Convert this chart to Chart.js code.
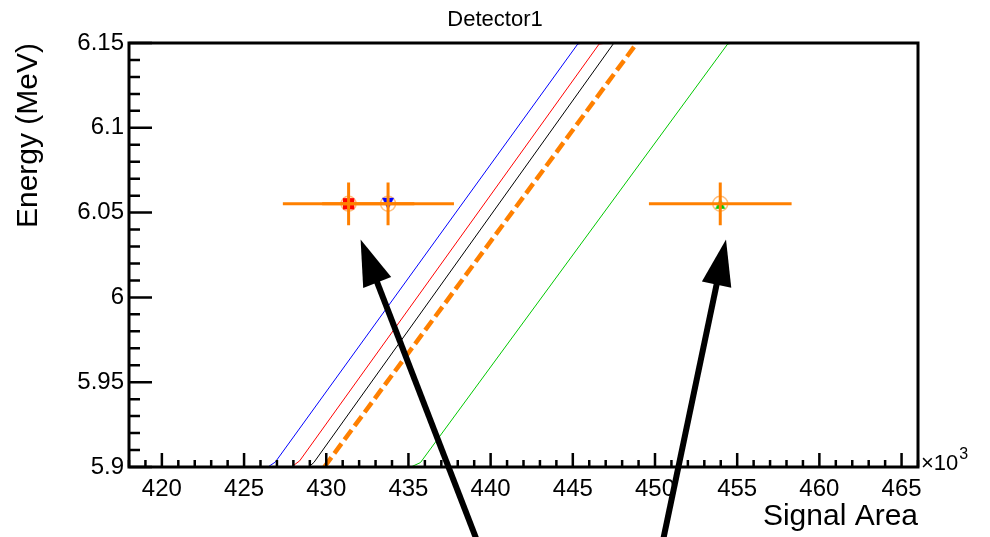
<!DOCTYPE html>
<html>
<head>
<meta charset="utf-8">
<script src="https://cdn.jsdelivr.net/npm/chart.js@4.4.1/dist/chart.umd.min.js"></script>
<style>
  html, body { margin: 0; padding: 0; background: #fff; }
  #contenedor { width: 990px; height: 537px; }
</style>
</head>
<body>
<div id="contenedor"><canvas id="graficoDetector"></canvas></div>
<script>
const FUENTE = '"Liberation Sans", Arial, Helvetica, sans-serif';

// calibration lines: signal area (x10^3) vs energy (MeV)
const azulX = [426.45, 426.9, 445.3, 445.6];
const azulY = [5.9, 5.9029, 6.1494, 6.15];
const rojoX = [427.88, 428.38, 446.6, 447.1];
const rojoY = [5.9, 5.9036, 6.1494, 6.15];
const negroX = [428.94, 429.25, 447.5];
const negroY = [5.9, 5.9027, 6.15];
const naranjaX = [429.88, 448.9];
const naranjaY = [5.9, 6.15];
const verdeX = [435.15, 435.73, 454.42, 454.72];
const verdeY = [5.9, 5.9026, 6.1494, 6.15];

// measured points with errors
const puntosX = [431.36, 433.76, 453.97];
const puntosY = [6.0552, 6.0552, 6.0552];
const errX = [4.0, 4.01, 4.34];
const errY = [0.0126, 0.0126, 0.0126];

// marker cut off above the frame
const extraX = [433.3];
const extraY = [6.1777];

// arrows (tail -> tip)
const flechaColaX = [439.66, 450.22];
const flechaColaY = [5.8443, 5.8443];
const flechaPuntaX = [432.09, 454.32];
const flechaPuntaY = [6.0341, 6.0341];

// axis ticks
const ticksX = [420, 425, 430, 435, 440, 445, 450, 455, 460, 465];
const ticksY = [5.9, 5.95, 6.0, 6.05, 6.1, 6.15];
const etiquetasY = ["5.9", "5.95", "6", "6.05", "6.1", "6.15"];

function puntos(xs, ys) {
  return xs.map((x, i) => ({ x: x, y: ys[i] }));
}

// triangle marker centred on its bounding box
function marcadorTriangulo(color, s, haciaAbajo) {
  const c = document.createElement("canvas");
  c.width = 2 * s + 2;
  c.height = 2 * s + 2;
  const g = c.getContext("2d");
  const m = s + 1;
  g.fillStyle = color;
  g.beginPath();
  if (haciaAbajo) {
    g.moveTo(m - s, m - s);
    g.lineTo(m + s, m - s);
    g.lineTo(m, m + s);
  } else {
    g.moveTo(m - s, m + s);
    g.lineTo(m + s, m + s);
    g.lineTo(m, m - s);
  }
  g.closePath();
  g.fill();
  return c;
}

function dibujarFlecha(ctx, x0, y0, x1, y1) {
  const ang = Math.atan2(y1 - y0, x1 - x0);
  const largo = 46, ancho = 15;
  const bx = x1 - largo * Math.cos(ang);
  const by = y1 - largo * Math.sin(ang);
  ctx.strokeStyle = "#000";
  ctx.fillStyle = "#000";
  ctx.lineWidth = 6;
  ctx.beginPath();
  ctx.moveTo(x0, y0);
  ctx.lineTo(bx + 2 * Math.cos(ang), by + 2 * Math.sin(ang));
  ctx.stroke();
  ctx.beginPath();
  ctx.moveTo(x1, y1);
  ctx.lineTo(bx + ancho * Math.sin(ang), by - ancho * Math.cos(ang));
  ctx.lineTo(bx - ancho * Math.sin(ang), by + ancho * Math.cos(ang));
  ctx.closePath();
  ctx.fill();
}

const marcoRoot = {
  id: "marcoRoot",
  afterDatasetsDraw(chart) {
    const ctx = chart.ctx;
    const sx = chart.scales.x, sy = chart.scales.y;
    const { left, right, top, bottom } = chart.chartArea;
    ctx.save();

    // frame
    ctx.strokeStyle = "#000";
    ctx.lineWidth = 3;
    ctx.strokeRect(left, top, right - left, bottom - top);

    // ticks drawn inside the frame
    ctx.lineWidth = 2.5;
    ctx.beginPath();
    for (let v = 418; v <= 466; v++) {
      const px = sx.getPixelForValue(v);
      const largo = v % 5 === 0 ? 14 : 7;
      ctx.moveTo(px, bottom);
      ctx.lineTo(px, bottom - largo);
    }
    for (let k = 0; k <= 25; k++) {
      const py = sy.getPixelForValue(5.9 + k * 0.01);
      const largo = k % 5 === 0 ? 23 : 11;
      ctx.moveTo(left, py);
      ctx.lineTo(left + largo, py);
    }
    ctx.stroke();

    // error bars
    ctx.strokeStyle = "#ff8000";
    ctx.lineWidth = 3;
    puntosX.forEach((v, i) => {
      const px = sx.getPixelForValue(v);
      const py = sy.getPixelForValue(puntosY[i]);
      ctx.beginPath();
      ctx.moveTo(sx.getPixelForValue(v - errX[i]), py);
      ctx.lineTo(sx.getPixelForValue(v + errX[i]), py);
      ctx.moveTo(px, sy.getPixelForValue(puntosY[i] - errY[i]));
      ctx.lineTo(px, sy.getPixelForValue(puntosY[i] + errY[i]));
      ctx.stroke();
    });

    // arrows
    flechaPuntaX.forEach((v, i) => {
      dibujarFlecha(ctx,
        sx.getPixelForValue(flechaColaX[i]), sy.getPixelForValue(flechaColaY[i]),
        sx.getPixelForValue(v), sy.getPixelForValue(flechaPuntaY[i]));
    });

    // title and exponent
    ctx.fillStyle = "#000";
    ctx.textBaseline = "alphabetic";
    ctx.textAlign = "center";
    ctx.font = "22px " + FUENTE;
    ctx.fillText("Detector1", 495, 26);
    ctx.textAlign = "left";
    ctx.font = "22px " + FUENTE;
    ctx.fillText("\u00d710", right + 3, bottom + 3);
    const ancho = ctx.measureText("\u00d710").width;
    ctx.font = "16px " + FUENTE;
    ctx.fillText("3", right + 4 + ancho, bottom - 8);
    ctx.restore();
  }
};

const lineaBase = { showLine: true, pointRadius: 0, borderWidth: 1, tension: 0, fill: false };

const ctx = document.getElementById("graficoDetector").getContext("2d");
new Chart(ctx, {
  type: "scatter",
  data: {
    datasets: [
      Object.assign({ label: "azul", data: puntos(azulX, azulY), borderColor: "#0000ff" }, lineaBase),
      Object.assign({ label: "rojo", data: puntos(rojoX, rojoY), borderColor: "#ff0000" }, lineaBase),
      Object.assign({ label: "negro", data: puntos(negroX, negroY), borderColor: "#000000" }, lineaBase),
      Object.assign({ label: "verde", data: puntos(verdeX, verdeY), borderColor: "#00c800" }, lineaBase),
      Object.assign({}, lineaBase, {
        label: "naranja",
        data: puntos(naranjaX, naranjaY),
        borderColor: "#ff8000",
        borderWidth: 4.5,
        borderDash: [12, 5],
      }),
      {
        label: "marcadores",
        data: puntos(puntosX, puntosY),
        pointStyle: ["rect", marcadorTriangulo("#0000ff", 6, true), marcadorTriangulo("#00c800", 5, false)],
        pointRadius: [8, 6, 5],
        backgroundColor: ["#ff0000", "#0000ff", "#00c800"],
        borderColor: ["#ff0000", "#0000ff", "#00c800"],
        borderWidth: 0,
      },
      {
        label: "circulos",
        data: puntos(puntosX, puntosY),
        pointStyle: "circle",
        pointRadius: 7.5,
        backgroundColor: "rgba(0,0,0,0)",
        borderColor: "rgba(255,128,0,0.5)",
        borderWidth: 1.5,
      },
      {
        label: "extra",
        data: puntos(extraX, extraY),
        pointStyle: "circle",
        pointRadius: 8,
        backgroundColor: "#ffa030",
        borderColor: "#ffa030",
        clip: false,
      },
    ],
  },
  options: {
    responsive: true,
    maintainAspectRatio: false,
    animation: false,
    layout: { padding: { top: 43, right: 72, bottom: 0, left: 0 } },
    plugins: { legend: { display: false }, tooltip: { enabled: false }, title: { display: false } },
    scales: {
      x: {
        type: "linear",
        min: 418,
        max: 466,
        grid: { display: false, drawTicks: false },
        border: { display: false },
        afterBuildTicks: (s) => { s.ticks = ticksX.map((v) => ({ value: v })); },
        afterFit: (s) => { s.height = 70; },
        ticks: {
          padding: 8,
          color: "#000",
          maxRotation: 0,
          autoSkip: false,
          font: { family: FUENTE, size: 24 },
          callback: (v) => String(v),
        },
        title: {
          display: true,
          text: "Signal Area",
          align: "end",
          color: "#000",
          font: { family: FUENTE, size: 30 },
          padding: { top: 0, bottom: 2 },
        },
      },
      y: {
        type: "linear",
        min: 5.9,
        max: 6.15,
        grid: { display: false, drawTicks: false },
        border: { display: false },
        afterBuildTicks: (s) => { s.ticks = ticksY.map((v) => ({ value: v })); },
        afterFit: (s) => { s.width = 129; },
        ticks: {
          padding: 5,
          color: "#000",
          autoSkip: false,
          font: { family: FUENTE, size: 24 },
          callback: (v, i) => etiquetasY[i],
        },
        title: {
          display: true,
          text: "Energy (MeV)",
          align: "end",
          color: "#000",
          font: { family: FUENTE, size: 30 },
          padding: { top: 11, bottom: 0 },
        },
      },
    },
  },
  plugins: [marcoRoot],
});
</script>
</body>
</html>
